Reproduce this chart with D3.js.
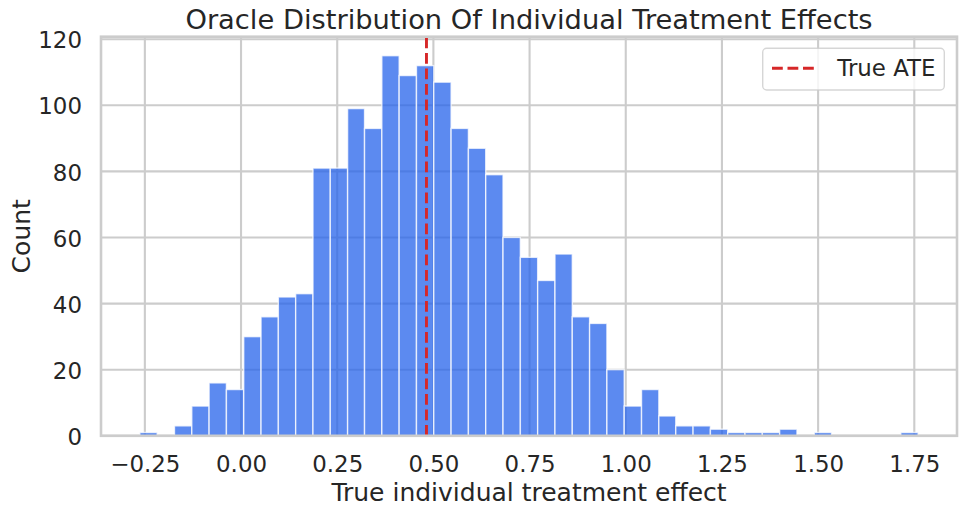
<!DOCTYPE html>
<html>
<head>
<meta charset="utf-8">
<script src="https://cdn.jsdelivr.net/npm/d3@7"></script>
<style>
  body { margin: 0; background: #fff; }
  text { font-family: "DejaVu Sans", sans-serif; fill: #262626; }
</style>
</head>
<body>
<div id="hist"></div>
<script>
// histogram bin edges (46 edges -> 45 bins)
var binEdges = [-0.263, -0.218, -0.173, -0.128, -0.083, -0.038, 0.007, 0.052, 0.097, 0.142,
  0.187, 0.232, 0.277, 0.321, 0.366, 0.411, 0.456, 0.501, 0.546, 0.591,
  0.636, 0.681, 0.726, 0.771, 0.816, 0.861, 0.906, 0.951, 0.996, 1.041,
  1.086, 1.130, 1.175, 1.220, 1.265, 1.310, 1.355, 1.400, 1.445, 1.490,
  1.535, 1.580, 1.625, 1.670, 1.715, 1.760]
var counts = [1, 0, 3, 9, 16, 14, 30, 36, 42, 43,
  81, 81, 99, 93, 115, 109, 112, 107, 93, 87,
  79, 60, 54, 47, 55, 36, 34, 20, 9, 14,
  6, 3, 3, 2, 1, 1, 1, 2, 0, 1,
  0, 0, 0, 0, 1]
var trueATE = 0.482
var xTicks = [-0.25, 0, 0.25, 0.5, 0.75, 1.0, 1.25, 1.5, 1.75]
var yTicks = [0, 20, 40, 60, 80, 100, 120]

var W = 966, H = 516
// plot box (note: "top" is taken by window.top, so prefix these)
var pLeft = 101, pRight = 957, pTop = 36.7, pBottom = 435.8

var svg = d3.select('#hist').append('svg')
    .attr('width', W)
    .attr('height', H)

var x = d3.scaleLinear().domain([-0.364, 1.861]).range([pLeft, pRight])
var y = d3.scaleLinear().domain([0, 120.75]).range([pBottom, pTop])

// grid first, bars go over it
var grid = svg.append('g')
grid.selectAll('line.vx').data(xTicks).enter().append('line')
    .attr('class', 'vx')
    .attr('x1', d => x(d)).attr('x2', d => x(d))
    .attr('y1', pTop).attr('y2', pBottom)
    .attr('stroke', '#cccccc').attr('stroke-width', 2.1)
grid.selectAll('line.hy').data(yTicks).enter().append('line')
    .attr('class', 'hy')
    .attr('y1', d => y(d)).attr('y2', d => y(d))
    .attr('x1', pLeft).attr('x2', pRight)
    .attr('stroke', '#cccccc').attr('stroke-width', 2.1)

var bins = counts.map(function(c, i){ return {x0: binEdges[i], x1: binEdges[i+1], n: c} })
    .filter(d => d.n > 0)

svg.append('g').selectAll('rect').data(bins).enter().append('rect')
    .attr('x', d => x(d.x0))
    .attr('y', d => y(d.n))
    .attr('width', d => x(d.x1) - x(d.x0))
    .attr('height', d => y(0) - y(d.n))
    .attr('fill', '#2563eb')
    .attr('fill-opacity', 0.75)
    .attr('stroke', '#ffffff')
    .attr('stroke-opacity', 0.75)
    .attr('stroke-width', 1.4)

// ATE line, drawn bottom -> top so the dash starts at the axis
svg.append('line')
    .attr('x1', x(trueATE)).attr('x2', x(trueATE))
    .attr('y1', pBottom).attr('y2', pTop)
    .attr('stroke', '#d62728')
    .attr('stroke-width', 2.9)
    .attr('stroke-dasharray', '10.8,4.7')

// frame
svg.append('rect')
    .attr('x', pLeft).attr('y', pTop)
    .attr('width', pRight - pLeft).attr('height', pBottom - pTop)
    .attr('fill', 'none')
    .attr('stroke', '#cccccc')
    .attr('stroke-width', 2.6)

// tick labels
var xAxis = d3.axisBottom(x).tickValues(xTicks).tickFormat(d3.format('.2f')).tickSize(0).tickPadding(0)
var gx = svg.append('g').attr('transform', 'translate(0,' + pBottom + ')').call(xAxis)
gx.select('.domain').remove()
gx.selectAll('text')
    .attr('y', 0).attr('dy', 0)
    .attr('transform', 'translate(0,36)')
    .style('font-size', '22.9px')
    .style('font-family', '"DejaVu Sans", sans-serif')
    .attr('fill', '#262626')

var yAxis = d3.axisLeft(y).tickValues(yTicks).tickFormat(d3.format('d')).tickSize(0).tickPadding(19)
var gy = svg.append('g').attr('transform', 'translate(' + pLeft + ',0)').call(yAxis)
gy.select('.domain').remove()
gy.selectAll('text')
    .attr('dy', '0.38em')
    .style('font-size', '22.9px')
    .style('font-family', '"DejaVu Sans", sans-serif')
    .attr('fill', '#262626')

// labels
svg.append('text')
    .attr('x', (pLeft + pRight) / 2).attr('y', 29)
    .attr('text-anchor', 'middle')
    .style('font-size', '27.3px')
    .text('Oracle Distribution Of Individual Treatment Effects')
svg.append('text')
    .attr('x', (pLeft + pRight) / 2).attr('y', 500.5)
    .attr('text-anchor', 'middle')
    .style('font-size', '25px')
    .text('True individual treatment effect')
svg.append('text')
    .attr('transform', 'translate(29.5,' + ((pTop + pBottom) / 2) + ') rotate(-90)')
    .attr('text-anchor', 'middle')
    .style('font-size', '25px')
    .text('Count')

// legend
var lg = svg.append('g')
lg.append('rect')
    .attr('x', 762.7).attr('y', 48.3).attr('width', 181.6).attr('height', 41.7)
    .attr('rx', 4).attr('ry', 4)
    .attr('fill', '#ffffff').attr('fill-opacity', 0.8)
    .attr('stroke', '#cccccc').attr('stroke-opacity', 0.8).attr('stroke-width', 1.4)
lg.append('line')
    .attr('x1', 772).attr('x2', 818).attr('y1', 68.3).attr('y2', 68.3)
    .attr('stroke', '#d62728').attr('stroke-width', 2.9)
    .attr('stroke-dasharray', '10.8,4.7')
lg.append('text')
    .attr('x', 837.3).attr('y', 75.7)
    .style('font-size', '22.9px')
    .text('True ATE')
</script>
</body>
</html>
